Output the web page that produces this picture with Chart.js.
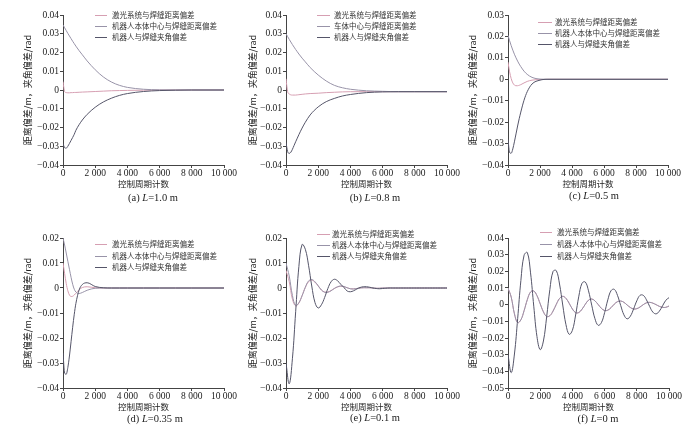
<!DOCTYPE html>
<html><head><meta charset="utf-8">
<script src="https://cdn.jsdelivr.net/npm/chart.js@4.4.1/dist/chart.umd.min.js"></script>
<style>
html,body{margin:0;padding:0;background:#fff;}
#wrap{position:relative;width:700px;height:433px;overflow:hidden;background:#fff;}
#wrap canvas{position:absolute;}
.cap{position:absolute;transform:translate(-50%,-50%);font-family:'Liberation Serif','Times New Roman',serif;font-size:10.5px;color:#222;white-space:nowrap;}
.cap i{font-style:italic;}
</style></head><body>
<div id="wrap">
<canvas id="ca"></canvas><canvas id="cb"></canvas><canvas id="cc"></canvas>
<canvas id="cd"></canvas><canvas id="ce"></canvas><canvas id="cf"></canvas>
</div>
<script>
// ---------- data ----------
const xLabelTitle = '控制周期计数';
const yLabelTitle = '距离偏差/m，夹角偏差/rad';
const seriesNames = ['激光系统与焊缝距离偏差', '机器人本体中心与焊缝距离偏差', '机器人与焊缝夹角偏差'];
const seriesNamesB = ['激光系统与焊缝距离偏差', '车体中心与焊缝距离偏差', '机器人与焊缝夹角偏差'];
const panelTags = ['(a)', '(b)', '(c)', '(d)', '(e)', '(f)'];
const panelL = ['1.0', '0.8', '0.5', '0.35', '0.1', '0'];
const xTicks = [0, 2000, 4000, 6000, 8000, 10000];

const xAD = [0,100,200,300,400,500,600,700,800,1000,1200,1500,2000,2500,3000,3500,4000,5000,6000,7000,8000,10000];

const aLaser = [0.0045,-0.0008,-0.0014,-0.0015,-0.0015,-0.0014,-0.0014,-0.0013,-0.0013,-0.0012,-0.0011,-0.0010,-0.0008,-0.0006,-0.0004,-0.0003,-0.0002,-0.0001,0,0,0,0];
const aBody  = [0.0347,0.0332,0.0317,0.0302,0.0288,0.0274,0.0260,0.0247,0.0234,0.0210,0.0188,0.0155,0.0108,0.0070,0.0043,0.0025,0.0014,0.0004,0.0001,0,0,0];
const aAngle = [-0.0285,-0.0308,-0.0310,-0.0300,-0.0285,-0.0269,-0.0253,-0.0236,-0.0215,-0.0185,-0.0160,-0.0130,-0.0092,-0.0064,-0.0044,-0.0029,-0.0019,-0.0008,-0.0003,-0.0001,0,0];

const bLaser = [0.0060,-0.0008,-0.0021,-0.0026,-0.0027,-0.0027,-0.0027,-0.0026,-0.0025,-0.0023,-0.0021,-0.0019,-0.0017,-0.0014,-0.0012,-0.0010,-0.0009,-0.0009,-0.0009,-0.0009,-0.0009,-0.0009];
const bBody  = [0.0300,0.0285,0.0270,0.0256,0.0242,0.0229,0.0216,0.0204,0.0192,0.0170,0.0150,0.0120,0.0080,0.0048,0.0025,0.0012,0.0004,-0.0004,-0.0007,-0.0009,-0.0009,-0.0009];
const bAngle = [-0.0280,-0.0328,-0.0338,-0.0332,-0.0316,-0.0296,-0.0276,-0.0257,-0.0238,-0.0203,-0.0172,-0.0133,-0.0090,-0.0062,-0.0045,-0.0032,-0.0024,-0.0014,-0.0010,-0.0009,-0.0009,-0.0009];

const cLaser = [0.0080,0.0035,0.0003,-0.0017,-0.0027,-0.0030,-0.0030,-0.0028,-0.0025,-0.0017,-0.0010,-0.0004,-0.0001,0,0,0,0,0,0,0,0,0];
const cBody  = [0.0205,0.0180,0.0157,0.0136,0.0117,0.0100,0.0085,0.0071,0.0059,0.0038,0.0023,0.0009,0.0001,0,0,0,0,0,0,0,0,0];
const cAngle = [-0.0280,-0.0342,-0.0345,-0.0325,-0.0292,-0.0255,-0.0218,-0.0184,-0.0153,-0.0098,-0.0058,-0.0022,-0.0004,0,0,0,0,0,0,0,0,0];

const dLaser = [0.0100,0.0058,0.0018,-0.0011,-0.0028,-0.0034,-0.0033,-0.0028,-0.0021,-0.0007,0.0002,0.0005,0.0001,0,0,0,0,0,0,0,0,0];
const dBody  = [0.0200,0.0172,0.0140,0.0107,0.0075,0.0043,0.0015,-0.0005,-0.0016,-0.0022,-0.0018,-0.0009,-0.0001,0,0,0,0,0,0,0,0,0];
const dAngle = [-0.0260,-0.0340,-0.0345,-0.0318,-0.0272,-0.0215,-0.0157,-0.0105,-0.0062,-0.0008,0.0014,0.0021,0.0006,0.0001,0,0,0,0,0,0,0,0];

const xEF = [0,200,400,600,800,1000,1200,1400,1600,1800,2000,2200,2400,2600,2800,3000,3200,3400,3600,3800,4000,4200,4400,4600,4800,5000,5200,5400,5600,5800,6000,6200,6400,6600,6800,7000,7200,7400,7600,7800,8000,8200,8400,8600,8800,9000,9200,9400,9600,9800,10000];

const eLaser = [0.0070,0.0025,-0.0045,-0.0072,-0.0060,-0.0030,0.0002,0.0025,0.0031,0.0023,0.0008,-0.0008,-0.0016,-0.0016,-0.0010,-0.0002,0.0004,0.0007,0.0005,0.0001,-0.0003,-0.0003,-0.0002,0,0.0001,0.0001,0.0001,0,-0.0001,-0.0001,0,
  0,0,0,0,0,0,0,0,0,0, 0,0,0,0,0,0,0,0,0,0];
const eBody  = [0.0100,0.0048,-0.0030,-0.0070,-0.0059,-0.0031,0.0003,0.0028,0.0034,0.0025,0.0009,-0.0008,-0.0017,-0.0017,-0.0011,-0.0002,0.0005,0.0008,0.0006,0.0001,-0.0003,-0.0004,-0.0002,0,0.0001,0.0001,0.0001,0,-0.0001,-0.0001,0,
  0,0,0,0,0,0,0,0,0,0, 0,0,0,0,0,0,0,0,0,0];
const eAngle = [-0.0300,-0.0383,-0.0281,-0.0095,0.0086,0.0174,0.0155,0.0091,0.0008,-0.0058,-0.0080,-0.0067,-0.0038,-0.0002,0.0025,0.0035,0.0029,0.0015,0.0002,-0.0012,-0.0015,-0.0011,-0.0004,0.0002,0.0005,0.0005,0.0003,0,-0.0002,-0.0003,-0.0002,-0.0001,
  0,0,0,0,0,0,0,0,0,0, 0,0,0,0,0,0,0,0,0];

const fLaser = [0.0100,0.0045,-0.0055,-0.0108,-0.0091,-0.0036,0.0030,0.0076,0.0082,0.0054,0.0005,-0.0043,-0.0071,-0.0066,-0.0038,0.0002,0.0037,0.0050,0.0038,0.0008,-0.0026,-0.0048,-0.0047,-0.0027,0.0002,0.0027,0.0034,0.0023,0.0001,-0.0022,-0.0035,-0.0033,-0.0018,0.0003,0.0018,0.0022,0.0014,-0.0002,-0.0017,-0.0026,-0.0024,-0.0014,0,0.0011,0.0014,0.0009,0,-0.0010,-0.0016,-0.0016,-0.0008];
const fBody  = [0.0100,0.0045,-0.0055,-0.0108,-0.0091,-0.0036,0.0030,0.0076,0.0082,0.0054,0.0005,-0.0043,-0.0071,-0.0066,-0.0038,0.0002,0.0037,0.0050,0.0038,0.0008,-0.0026,-0.0048,-0.0047,-0.0027,0.0002,0.0027,0.0034,0.0023,0.0001,-0.0022,-0.0035,-0.0033,-0.0018,0.0003,0.0018,0.0022,0.0014,-0.0002,-0.0017,-0.0026,-0.0024,-0.0014,0,0.0011,0.0014,0.0009,0,-0.0010,-0.0016,-0.0016,-0.0008];
const fAngle = [-0.0300,-0.0408,-0.0296,-0.0084,0.0145,0.0297,0.0313,0.0191,-0.0009,-0.0192,-0.0270,-0.0218,-0.0074,0.0091,0.0200,0.0204,0.0124,-0.0002,-0.0120,-0.0178,-0.0154,-0.0062,0.0051,0.0129,0.0136,0.0083,-0.0003,-0.0084,-0.0124,-0.0108,-0.0048,0.0029,0.0084,0.0092,0.0056,-0.0005,-0.0061,-0.0085,-0.0069,-0.0026,0.0023,0.0056,0.0056,0.0029,-0.0011,-0.0045,-0.0055,-0.0039,-0.0007,0.0026,0.0042];

// ---------- styling / layout ----------
const COLORS = ['#d69fb2', '#9893a8', '#555569'];
const TICK_FONT = {family: "'Liberation Serif','Times New Roman',serif", size: 9.5};
const CJK = "'Noto Sans CJK SC','Noto Sans',sans-serif";
const Y_TITLE_SIZE = 9, X_TITLE_SIZE = 8.5, X_AXIS_H = 24;

const legendPlugin = {
  id: 'panelLegend',
  afterDraw(chart, args, o) {
    const ctx = chart.ctx;
    ctx.save();
    ctx.font = o.size + 'px ' + CJK;
    ctx.textBaseline = 'middle';
    ctx.textAlign = 'left';
    chart.data.datasets.forEach((ds, i) => {
      const y = Math.round(o.y + i * o.dy);
      ctx.strokeStyle = ds.borderColor;
      ctx.lineWidth = 1;
      ctx.beginPath();
      ctx.moveTo(o.x, y + 0.5);
      ctx.lineTo(o.x + o.len, y + 0.5);
      ctx.stroke();
      ctx.fillStyle = '#333';
      ctx.fillText(ds.label, o.tx, y);
    });
    ctx.restore();
  }
};

function fmtY(v) {
  if (Math.abs(v) < 1e-9) return '0';
  const s = Math.abs(v).toFixed(2);
  return (v < 0 ? '\u2212' : '') + s;
}
function fmtX(v) {
  if (v < 1000) return String(v);
  return Math.round(v / 1000) + ' 000';
}

function makePanel(p, xs, vals, names) {
  const cv = document.getElementById(p.id);
  cv.width = p.w; cv.height = p.h;
  cv.style.left = p.left + 'px'; cv.style.top = p.top + 'px';
  const yTitleLH = Y_TITLE_SIZE * 1.2;
  const padL = p.titleX - p.left - yTitleLH / 2;
  const yW = p.pl - p.left - padL;
  const datasets = vals.map((arr, i) => ({
    label: names[i],
    data: xs.map((x, k) => ({x: x, y: arr[k]})),
    borderColor: COLORS[i],
    borderWidth: 1,
    pointRadius: 0,
    fill: false,
    order: 3 - i,
    tension: p.smooth ? 0.4 : 0,
    cubicInterpolationMode: p.smooth ? 'default' : 'monotone'
  }));
  new Chart(cv, {
    type: 'line',
    data: {datasets},
    options: {
      responsive: false, animation: false, devicePixelRatio: 1,
      layout: {padding: {left: padL, right: p.left + p.w - p.pr, top: p.pt - p.top, bottom: p.top + p.h - p.pb - X_AXIS_H}},
      plugins: {
        legend: {display: false}, tooltip: {enabled: false},
        panelLegend: {x: p.lx - p.left, tx: p.tx - p.left, y: p.ly - p.top, dy: p.dy, len: p.len, size: 7.5}
      },
      scales: {
        x: {
          type: 'linear', min: 0, max: 10000,
          afterFit: s => { s.height = X_AXIS_H; },
          afterBuildTicks: s => { s.ticks = xTicks.map(v => ({value: v})); },
          ticks: {callback: fmtX, font: TICK_FONT, color: '#222', padding: 0, maxRotation: 0, autoSkip: false},
          grid: {drawOnChartArea: false, drawTicks: true, tickLength: 3, color: '#444'},
          border: {display: true, color: '#444', width: 1},
          title: {display: true, text: xLabelTitle, font: {family: CJK, size: X_TITLE_SIZE}, color: '#222', padding: 0}
        },
        y: {
          min: p.yMin, max: p.yMax,
          afterFit: s => { s.width = yW; },
          ticks: {stepSize: 0.01, callback: fmtY, font: TICK_FONT, color: '#222', padding: 1, autoSkip: false},
          grid: {drawOnChartArea: false, drawTicks: true, tickLength: 3, color: '#444'},
          border: {display: true, color: '#444', width: 1},
          title: {display: true, text: yLabelTitle, font: {family: CJK, size: Y_TITLE_SIZE}, color: '#222', padding: 0}
        }
      }
    },
    plugins: [legendPlugin]
  });
}

const panels = [
  {id: 'ca', left: 0,   top: 0,   w: 240, h: 194, pl: 63,  pr: 224, pt: 15,  pb: 165, titleX: 28,  yMin: -0.04, yMax: 0.04, lx: 95,  len: 12, tx: 112, ly: 15,  dy: 11, smooth: false},
  {id: 'cb', left: 230, top: 0,   w: 240, h: 194, pl: 286, pr: 447, pt: 15,  pb: 165, titleX: 253, yMin: -0.04, yMax: 0.04, lx: 317, len: 13, tx: 334, ly: 15,  dy: 11, smooth: false},
  {id: 'cc', left: 460, top: 0,   w: 240, h: 194, pl: 508, pr: 668, pt: 15,  pb: 165, titleX: 473, yMin: -0.04, yMax: 0.03, lx: 538, len: 14, tx: 555, ly: 22,  dy: 11, smooth: false},
  {id: 'cd', left: 0,   top: 215, w: 240, h: 202, pl: 63,  pr: 224, pt: 238, pb: 388, titleX: 28,  yMin: -0.04, yMax: 0.02, lx: 95,  len: 12, tx: 112, ly: 244, dy: 11.5, smooth: false},
  {id: 'ce', left: 230, top: 215, w: 240, h: 202, pl: 286, pr: 447, pt: 238, pb: 388, titleX: 253, yMin: -0.04, yMax: 0.02, lx: 317, len: 13, tx: 332, ly: 234, dy: 11, smooth: true},
  {id: 'cf', left: 460, top: 215, w: 240, h: 202, pl: 508, pr: 669, pt: 238, pb: 388, titleX: 473, yMin: -0.05, yMax: 0.04, lx: 540, len: 12, tx: 557, ly: 232, dy: 12, smooth: true}
];
const panelData = [
  [xAD, [aLaser, aBody, aAngle], seriesNames],
  [xAD, [bLaser, bBody, bAngle], seriesNamesB],
  [xAD, [cLaser, cBody, cAngle], seriesNames],
  [xAD, [dLaser, dBody, dAngle], seriesNames],
  [xEF, [eLaser, eBody, eAngle], seriesNames],
  [xEF, [fLaser, fBody, fAngle], seriesNames]
];
const captionPos = [[153, 197], [375, 197], [594, 195], [155, 418], [375, 417], [598, 418]];

panels.forEach((p, i) => makePanel(p, panelData[i][0], panelData[i][1], panelData[i][2]));

const wrap = document.getElementById('wrap');
captionPos.forEach((c, i) => {
  const d = document.createElement('div');
  d.className = 'cap';
  d.style.left = c[0] + 'px';
  d.style.top = c[1] + 'px';
  d.innerHTML = panelTags[i] + ' <i>L</i>=' + panelL[i] + ' m';
  wrap.appendChild(d);
});
</script>
</body></html>
